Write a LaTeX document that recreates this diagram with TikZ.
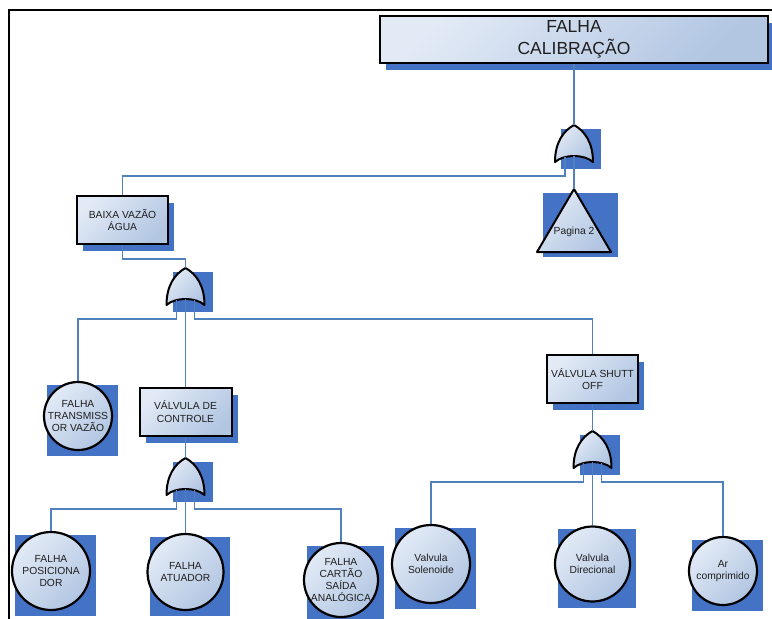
\documentclass[tikz,border=0pt]{standalone}
\usepackage{fontspec}
\setmainfont{Liberation Sans}
\usetikzlibrary{calc, shadows, backgrounds}
\definecolor{ftshadow}{RGB}{68,114,196}
\definecolor{ftwire}{RGB}{79,129,189}
\definecolor{ftlight}{RGB}{226,234,246}
\definecolor{ftdark}{RGB}{178,198,226}
\definecolor{fttext}{RGB}{30,30,30}
\tikzset{
  %% ---- boxes ----
  evbox/.style   = {rectangle, draw=black, line width=2pt,
                    top color=ftlight, bottom color=ftdark, shading angle=45,
                    minimum width=#1, minimum height=48pt, inner sep=1pt,
                    align=center, text=fttext, font=\fontsize{10.3}{12.8}\selectfont,
                    general shadow={fill=ftshadow, shadow xshift=6pt, shadow yshift=-7pt}},
  evbox/.default = 92pt,
  basic/.style   = {circle, draw=black, line width=2.2pt,
                    top color=ftlight, bottom color=ftdark, shading angle=45,
                    minimum size=#1, inner sep=-5pt,
                    align=center, text=fttext, font=\fontsize{10.3}{12.3}\selectfont},
  basic/.default = 76pt,
  sqshadow/.style = {fill=ftshadow},
  gatebody/.style = {draw=black, line width=2pt, line join=round,
                    top color=ftlight, bottom color=ftdark, shading angle=45},
  %% ---- lines ----
  wire/.style    = {draw=ftwire, line width=1.2pt},
  frame/.style   = {draw=black, line width=1.4pt},
  %% ---- OR gate ----
  pics/orgate/.style = {code={
    \fill[sqshadow] (-13,4) rectangle (27,44);
    \draw[gatebody] (-19,37) .. controls (-19,18) and (-11,6) .. (0,0)
                    .. controls (11,6) and (19,18) .. (19,37)
                    .. controls (10,29) and (-10,29) .. cycle;
    \coordinate (-in) at (0,0);
    \coordinate (-o1) at (-9,32);
    \coordinate (-o2) at (0,31);
    \coordinate (-o3) at (9,32);
  }},
}

\begin{document}
\begin{tikzpicture}[x=1pt, y=-1pt]
\useasboundingbox (0,0) rectangle (772,619);
\draw[frame] (9,619) -- (9,10) -- (772,10);

%% events
\node[evbox=388pt, minimum height=47pt, font=\fontsize{17.5}{22}\selectfont] (top) at (574,39.5) {FALHA\\CALIBRAÇÃO};
\node[evbox=91pt] (baixa) at (122.5,220) {BAIXA VAZÃO\\ÁGUA};
\node[evbox]      (ctrl)  at (185.5,411.5) {VÁLVULA DE\\CONTROLE};
\node[evbox=91pt] (shutt) at (592.5,379) {VÁLVULA SHUTT\\OFF};

%% basic events
\node[basic=68pt] (trans) at (78,416)    {FALHA\\TRANSMISS\\OR VAZÃO};
\node[basic=78pt] (pos)   at (51,571)    {FALHA\\POSICIONA\\DOR};
\node[basic]      (atu)   at (185.5,572) {FALHA\\ATUADOR};
\node[basic=74pt] (cart)  at (341,580)   {FALHA\\CARTÃO\\SAÍDA\\ANALÓGICA};
\node[basic=78pt] (sol)   at (431,564)   {Valvula\\Solenoide};
\node[basic=75pt] (dir)   at (592.5,564) {Valvula\\Direcional};
\node[basic=68pt] (ar)    at (723,571)   {Ar\\comprimido};

\begin{scope}[on background layer]
\foreach \n in {trans,pos,atu,cart,sol,dir,ar}
  \fill[sqshadow] ($(\n.west |- \n.north)+(4,4)$) rectangle ($(\n.east |- \n.south)+(5,5)$);
\end{scope}

%% transfer
\coordinate (pg) at (574,189);
\fill[sqshadow] (543,193) rectangle (618,257);
\draw[gatebody] (pg) -- (611,252) -- (537,252) -- cycle;
\node[font=\fontsize{10.3}{12}\selectfont, text=fttext] (pgtxt) at (574,232) {Pagina 2};

%% gates
\pic (g1) at (574,125)   {orgate};
\pic (g2) at (185.5,268) {orgate};
\pic (g3) at (185.5,458) {orgate};
\pic (g4) at (592.5,431) {orgate};

\draw[wire] (top.south)   -- (g1-in);
\draw[wire] (g1-o1) -- ++(0,19) -| (baixa.north);
\draw[wire] (g1-o2) -- (pg);
\draw[wire] (baixa.south) -- ++(0,14) -| (g2-in);
\draw[wire] (g2-o1) -- ++(0,19) -| (trans.north);
\draw[wire] (g2-o2) -- (ctrl.north);
\draw[wire] (g2-o3) -- ++(0,19) -| (shutt.north);
\draw[wire] (ctrl.south)  -- (g3-in);
\draw[wire] (g3-o1) -- ++(0,19) -| (pos.north);
\draw[wire] (g3-o2) -- (atu.north);
\draw[wire] (g3-o3) -- ++(0,19) -| (cart.north);
\draw[wire] (shutt.south) -- (g4-in);
\draw[wire] (g4-o1) -- ++(0,19) -| (sol.north);
\draw[wire] (g4-o2) -- (dir.north);
\draw[wire] (g4-o3) -- ++(0,19) -| (ar.north);
\end{tikzpicture}
\end{document}
